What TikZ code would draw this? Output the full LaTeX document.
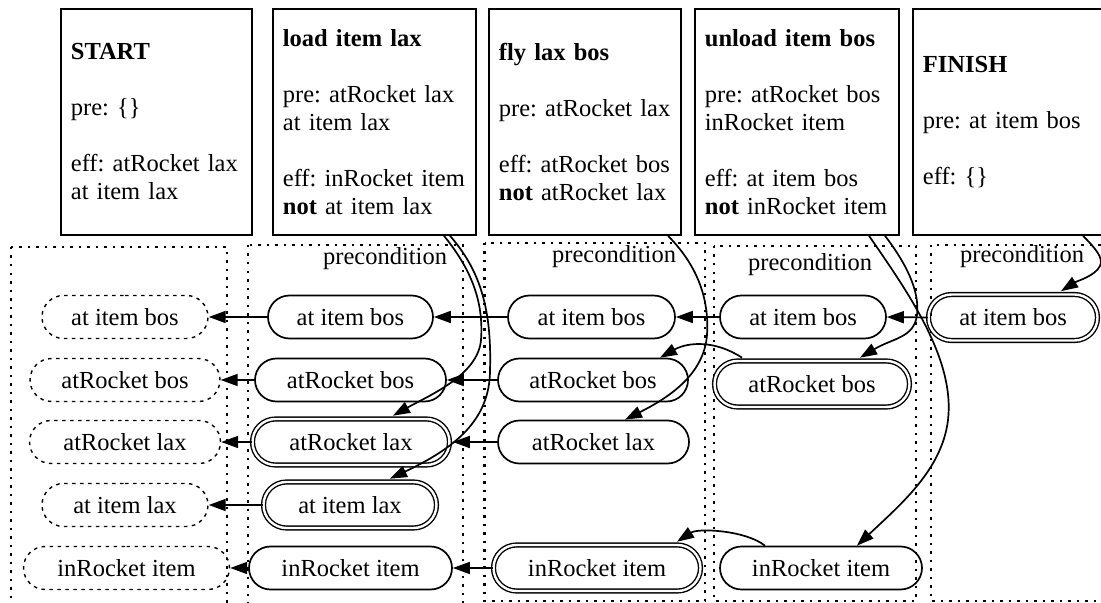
\documentclass[tikz,border=0pt]{standalone}
\usepackage{fontspec}
\setmainfont{Liberation Serif}
\usetikzlibrary{shapes.misc,arrows.meta}
\frenchspacing

\tikzset{
  txt/.style={font=\fontsize{24.5bp}{28bp}\selectfont},
  actbox/.style={txt, draw, line width=1.8bp, rectangle, anchor=north west,
    minimum height=226bp, inner xsep=10bp, inner ysep=0pt, align=left},
  fact/.style={txt, rounded rectangle, draw, line width=1.7bp,
    minimum height=43bp, inner sep=0pt},
  ghost/.style={fact, line width=1.4bp, dash pattern=on 3.5bp off 4.5bp},
  pivot/.style={fact, line width=1.4bp, double, double distance=2.4bp,
    minimum height=46bp},
  region/.style={draw, line width=2.2bp, dash pattern=on 2.5bp off 6bp},
  tag/.style={txt, anchor=base west, inner sep=0pt},
  link/.style={line width=1.7bp, -{Triangle[length=17bp,width=12bp]}},
}

\begin{document}
\begin{tikzpicture}[x=1bp,y=-1bp]
\useasboundingbox (0,0) rectangle (1101,603);
\clip (0,0) rectangle (1101,603);

% plan steps
\node[actbox, text width=171bp] (start) at (60,8)
  {\textbf{START}\\[28bp] pre: \{\}\\[28bp] eff: atRocket lax\\ at item lax};
\node[actbox, text width=183bp] (load) at (272,8)
  {\textbf{load item lax}\\[28bp] pre: atRocket lax\\ at item lax\\[28bp]
   eff: inRocket item\\ \textbf{not} at item lax};
\node[actbox, text width=172bp] (fly) at (488,8)
  {\textbf{fly lax bos}\\[28bp] pre: atRocket lax\\[28bp]
   eff: atRocket bos\\ \textbf{not} atRocket lax};
\node[actbox, text width=184bp] (unload) at (694,8)
  {\textbf{unload item bos}\\[28bp] pre: atRocket bos\\ inRocket item\\[28bp]
   eff: at item bos\\ \textbf{not} inRocket item};
\node[actbox, text width=178bp] (finish) at (912,8)
  {\textbf{FINISH}\\[28bp] pre: at item bos\\[28bp] eff: \{\}};

% state regions
\draw[region] (11,247) rectangle (227,640);
\draw[region] (248,245) rectangle (463,640);
\draw[region] (484.5,243) rectangle (705,601);
\draw[region] (714,246) rectangle (916,601);
\draw[region] (931,245) rectangle (1140,601);

\node[tag] (p1) at (323,265) {precondition};
\node[tag] (p2) at (552,263) {precondition};
\node[tag] (p3) at (748,271) {precondition};
\node[tag] (p4) at (960,263) {precondition};

% initial state
\node[ghost, minimum width=166bp] (s0aib) at (125,317) {at item bos};
\node[ghost, minimum width=190bp] (s0arb) at (125,380) {atRocket bos};
\node[ghost, minimum width=191bp] (s0arl) at (125,442) {atRocket lax};
\node[ghost, minimum width=166bp] (s0ail) at (125,505) {at item lax};
\node[ghost, minimum width=206bp] (s0iri) at (126.5,568) {inRocket item};

% before load
\node[fact, minimum width=165bp] (s1aib) at (350.5,317) {at item bos};
\node[fact, minimum width=191bp] (s1arb) at (350.5,380) {atRocket bos};
\node[pivot, minimum width=197bp] (s1arl) at (351,442) {atRocket lax};
\node[pivot, minimum width=173bp] (s1ail) at (350,505) {at item lax};
\node[fact, minimum width=203bp] (s1iri) at (350.5,568) {inRocket item};

% before fly
\node[fact, minimum width=167bp] (s2aib) at (591.5,317) {at item bos};
\node[fact, minimum width=190bp] (s2arb) at (593,380) {atRocket bos};
\node[fact, minimum width=191bp] (s2arl) at (593.5,442) {atRocket lax};
\node[pivot, minimum width=207bp] (s2iri) at (597,568) {inRocket item};

% before unload
\node[fact, minimum width=166bp] (s3aib) at (803,317) {at item bos};
\node[pivot, minimum width=195bp] (s3arb) at (812,384) {atRocket bos};
\node[fact, minimum width=202bp] (s3iri) at (821,568) {inRocket item};

% before finish
\node[pivot, minimum width=169bp] (s4aib) at (1013,317.5) {at item bos};

% persistence links
\draw[link] (s1aib.west) -- (s0aib.east);
\draw[link] (s2aib.west) -- (s1aib.east);
\draw[link] (s3aib.west) -- (s2aib.east);
\draw[link] (s4aib.west) -- (s3aib.east);
\draw[link] (s1arb.west) -- (s0arb.east);
\draw[link] (s2arb.west) -- (s1arb.east);
\draw[link] (s1arl.west) -- (s0arl.east);
\draw[link, shorten >=2.6bp] (s2arl.west) -- (s1arl.east);
\draw[link] (s1ail.west) -- (s0ail.east);
\draw[link] (s1iri.west) -- (s0iri.east);
\draw[link] (s2iri.west) -- (s1iri.east);

\draw[link] ([xshift=-70bp,yshift=2.6bp]s3arb.north)
  .. controls (715,340) and (688,342) .. ([xshift=67bp]s2arb.north);
\draw[link] ([xshift=-56bp]s3iri.north)
  .. controls (745,530) and (698,528) .. ([xshift=80bp,yshift=2.6bp]s2iri.north);

% step to precondition links
\draw[link] ([xshift=172bp]load.south west)
  .. controls (470,268) and (484,300) .. (481,340)
  .. controls (478,375) and (430,395) .. ([xshift=42bp,yshift=2.6bp]s1arl.north);
\draw[link] ([xshift=178bp]load.south west)
  .. controls (478,268) and (492,305) .. (490,370)
  .. controls (490,420) and (455,448) .. ([xshift=40bp,yshift=2.6bp]s1ail.north);
\draw[link] ([xshift=180bp]fly.south west)
  .. controls (690,258) and (710,290) .. (707,335)
  .. controls (704,375) and (668,398) .. ([xshift=31.5bp]s2arl.north);
\draw[link] ([xshift=191bp]unload.south west)
  .. controls (905,262) and (920,290) .. (917,315)
  .. controls (914,338) and (893,338) .. ([xshift=48bp,yshift=2.6bp]s3arb.north);
\draw[link] ([xshift=175bp]unload.south west)
  .. controls (910,295) and (955,360) .. (948,420)
  .. controls (942,470) and (900,505) .. ([xshift=36bp]s3iri.north);
\draw[link] ([xshift=171bp]finish.south west)
  .. controls (1095,248) and (1104,258) .. (1100,266)
  .. controls (1095,276) and (1077,281) .. ([xshift=48bp,yshift=2.6bp]s4aib.north);
\end{tikzpicture}
\end{document}
